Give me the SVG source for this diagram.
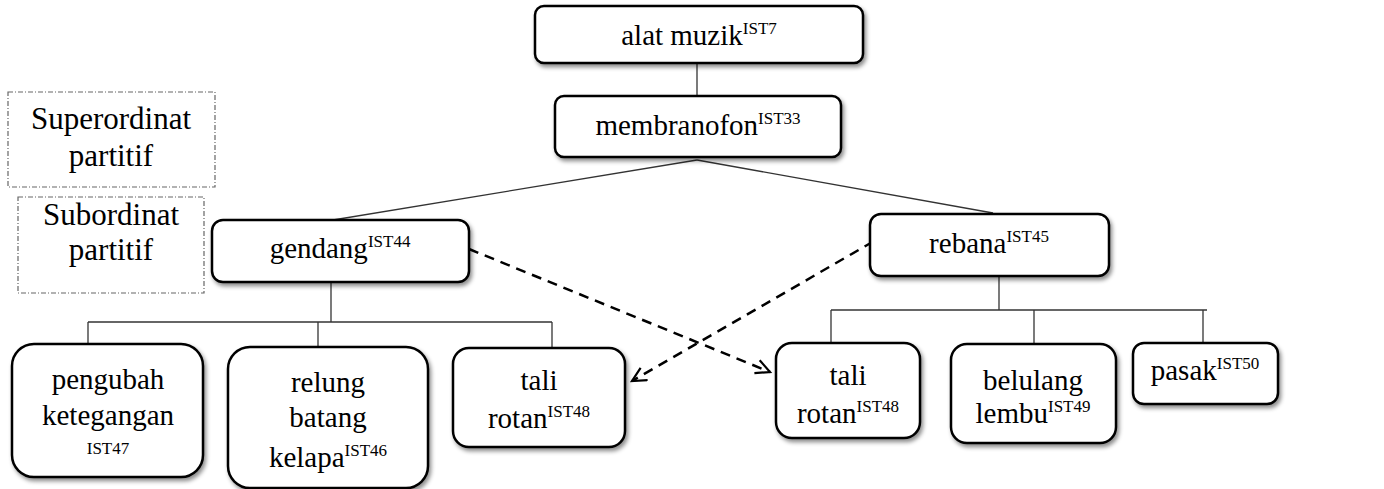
<svg xmlns="http://www.w3.org/2000/svg" width="1384" height="489" viewBox="0 0 1384 489">
<style>
.box{fill:#fff;stroke:#000;stroke-width:2.5;filter:url(#sh)}
.leg{fill:#fff;stroke:#666;stroke-width:1.2;stroke-dasharray:5 2 1 2}
text{font-family:'Liberation Serif','DejaVu Serif',serif;fill:#000;text-anchor:middle}
.t{font-size:29px}
.lt{font-size:31px}
.sup{font-size:17px}
.small{font-size:17px}
.ln{stroke:#333;stroke-width:1.3;fill:none}
.da{stroke:#000;stroke-width:2.5;fill:none;stroke-dasharray:10 7}
</style>
<defs>
<filter id="sh" x="-10%" y="-10%" width="130%" height="140%">
<feDropShadow dx="2" dy="3" stdDeviation="2" flood-color="#000" flood-opacity="0.45"/>
</filter>
<marker id="ah" markerWidth="20" markerHeight="20" refX="16" refY="8" orient="auto" markerUnits="userSpaceOnUse">
<path d="M2,1 L16,8 L2,15" fill="none" stroke="#000" stroke-width="2.2"/>
</marker>
</defs>
<rect width="1384" height="489" fill="#fff"/>

<g id="legend-super"><rect class="leg" x="8" y="92" width="207" height="95"/>
<text class="lt" x="111" y="129">Superordinat</text><text class="lt" x="111" y="166">partitif</text></g>
<g id="legend-sub"><rect class="leg" x="18" y="197" width="186" height="96"/>
<text class="lt" x="111" y="225">Subordinat</text><text class="lt" x="111" y="260">partitif</text></g>

<g id="connectors">
<line class="ln" x1="697" y1="63" x2="697" y2="97"/>
<line class="ln" x1="697" y1="160" x2="333" y2="220"/>
<line class="ln" x1="697" y1="160" x2="993" y2="213"/>
<line class="ln" x1="331" y1="283" x2="331" y2="322"/>
<line class="ln" x1="88" y1="322" x2="552" y2="322"/>
<line class="ln" x1="88" y1="322" x2="88" y2="345"/>
<line class="ln" x1="318" y1="322" x2="318" y2="348"/>
<line class="ln" x1="552" y1="322" x2="552" y2="349"/>
<line class="ln" x1="999" y1="277" x2="999" y2="310"/>
<line class="ln" x1="831" y1="310" x2="1207" y2="310"/>
<line class="ln" x1="831" y1="310" x2="831" y2="343"/>
<line class="ln" x1="1034" y1="310" x2="1034" y2="344"/>
<line class="ln" x1="1203" y1="310" x2="1203" y2="343"/>
<line class="da" x1="469" y1="249" x2="770" y2="372" marker-end="url(#ah)"/>
<line class="da" x1="888" y1="233" x2="632" y2="381" marker-end="url(#ah)"/>
</g>

<g id="alat-muzik"><rect class="box" x="535" y="6" width="328" height="57" rx="9"/>
<text class="t" x="699" y="45">alat muzik<tspan class="sup" dy="-11">IST7</tspan></text></g>
<g id="membranofon"><rect class="box" x="555" y="96" width="286" height="61" rx="9"/>
<text class="t" x="698" y="135">membranofon<tspan class="sup" dy="-11">IST33</tspan></text></g>
<g id="gendang"><rect class="box" x="212" y="220" width="257" height="62" rx="11"/>
<text class="t" x="340" y="258">gendang<tspan class="sup" dy="-11">IST44</tspan></text></g>
<g id="rebana"><rect class="box" x="870" y="214" width="239" height="62" rx="11"/>
<text class="t" x="989" y="253">rebana<tspan class="sup" dy="-11">IST45</tspan></text></g>

<g id="pengubah"><rect class="box" x="12" y="344" width="191" height="133" rx="22"/>
<text class="t" x="108" y="389">pengubah</text><text class="t" x="108" y="425">ketegangan</text>
<text class="small" x="108" y="454">IST47</text></g>
<g id="relung"><rect class="box" x="228" y="347" width="200" height="141" rx="22"/>
<text class="t" x="328" y="392">relung</text><text class="t" x="328" y="427">batang</text>
<text class="t" x="328" y="467">kelapa<tspan class="sup" dy="-11">IST46</tspan></text></g>
<g id="tali-rotan-1"><rect class="box" x="453" y="348" width="172" height="99" rx="16"/>
<text class="t" x="539" y="390">tali</text>
<text class="t" x="539" y="428">rotan<tspan class="sup" dy="-11">IST48</tspan></text></g>

<g id="tali-rotan-2"><rect class="box" x="776" y="343" width="144" height="95" rx="16"/>
<text class="t" x="848" y="385">tali</text>
<text class="t" x="848" y="423">rotan<tspan class="sup" dy="-11">IST48</tspan></text></g>
<g id="belulang"><rect class="box" x="951" y="344" width="165" height="99" rx="16"/>
<text class="t" x="1033" y="390">belulang</text>
<text class="t" x="1033" y="423">lembu<tspan class="sup" dy="-11">IST49</tspan></text></g>
<g id="pasak"><rect class="box" x="1133" y="343" width="145" height="61" rx="11"/>
<text class="t" x="1205" y="380">pasak<tspan class="sup" dy="-11">IST50</tspan></text></g>
</svg>
